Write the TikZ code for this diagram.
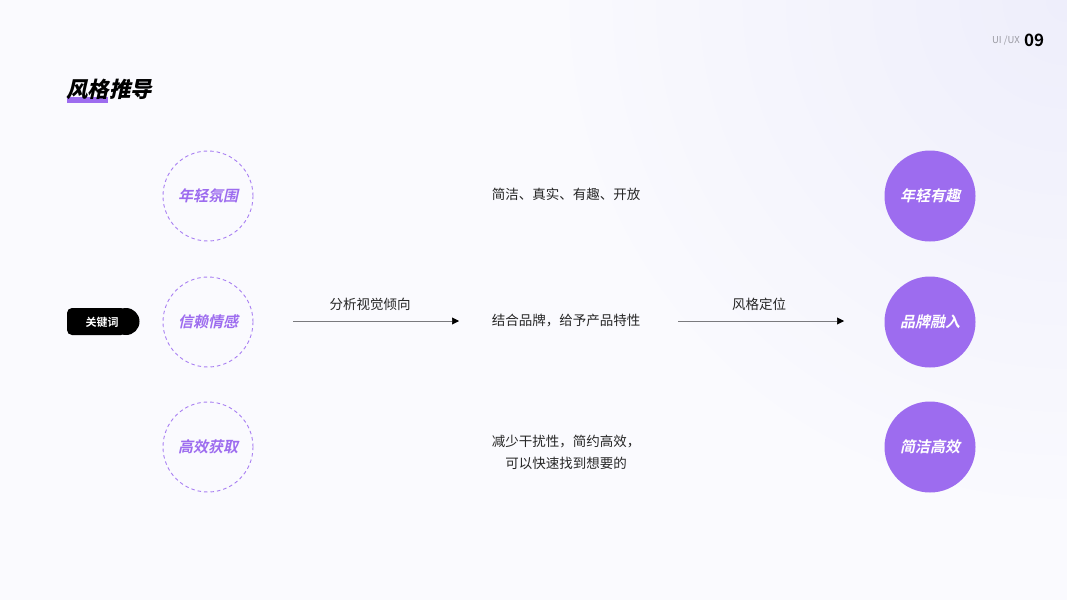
\documentclass[tikz,border=0pt]{standalone}
\usepackage{fontspec}
\setmainfont{Noto Sans CJK SC}[BoldFont={Noto Sans CJK SC Bold}]
\newfontfamily\slantbold{Noto Sans CJK SC Bold}[FakeSlant=0.22]
\newfontfamily\slantblack{Noto Sans CJK SC Black}[FakeSlant=0.22]
\usetikzlibrary{arrows.meta}
\definecolor{bgbase}{HTML}{FAFAFE}
\definecolor{bgcorner}{HTML}{EEEEFB}
\definecolor{violet}{HTML}{9D6CEF}
\definecolor{dashviolet}{HTML}{A87EF2}
\definecolor{greytext}{HTML}{9A9AA2}
\definecolor{arrowgrey}{HTML}{7A7A7E}
\tikzset{
  keyring/.style={circle,draw=dashviolet,dashed,line width=0.9pt,dash pattern=on 3.5pt off 3pt,minimum size=90pt,inner sep=0pt,text=violet,font=\fontsize{15}{15}\selectfont\slantbold},
  resultdot/.style={circle,fill=violet,minimum size=91pt,inner sep=0pt,text=white,font=\fontsize{15}{15}\selectfont\slantbold},
  plain/.style={font=\fontsize{13.5}{22}\selectfont,text=black!85,align=center},
  flow/.style={draw=arrowgrey,line width=0.6pt,-{Triangle[length=7pt,width=7pt,color=black]}}
}
\begin{document}
\begin{tikzpicture}[x=1pt,y=-1pt]
% Background
\useasboundingbox (0,0) rectangle (1067,600);
\fill[bgbase] (0,0) rectangle (1067,600);
\begin{scope}
\clip (0,0) rectangle (1067,600);
\shade[inner color=bgcorner,outer color=bgbase] (1067,0) circle (520);
\end{scope}

% Title and page number
\fill[violet] (67,97) rectangle (108,103);
\node[anchor=west,inner sep=0pt,font=\fontsize{21.5}{21.5}\selectfont\slantblack] (title) at (66,89) {风格推导};
\node[anchor=east,inner sep=0pt,text=greytext,font=\fontsize{9.5}{9.5}\selectfont] (tag) at (1020,41) {UI /UX};
\node[anchor=west,inner sep=0pt,font=\fontsize{17}{17}\selectfont\bfseries] (page) at (1024,40) {09};

% Keyword pill
\fill[black,rounded corners=5pt] (67,308) -- (126,308) -- (126,335) -- (67,335) -- cycle;
\fill[black] (126,321.5) circle (13.5);
\node[text=white,font=\fontsize{11}{11}\selectfont\bfseries] (key) at (102,322) {关键词};

% Dashed circles
\node[keyring] (young) at (208,196) {年轻氛围};
\node[keyring] (trust) at (208,322) {信赖情感};
\node[keyring] (fast) at (208,447) {高效获取};

% Middle texts
\node[plain] (textA) at (566,194) {简洁、真实、有趣、开放};
\node[plain] (textB) at (566,321) {结合品牌，给予产品特性};
\node[plain] (textC) at (566,452) {减少干扰性，简约高效，\\可以快速找到想要的};

% Filled circles
\node[resultdot] (fun) at (930,196) {年轻有趣};
\node[resultdot] (brand) at (930,322) {品牌融入};
\node[resultdot] (simple) at (930,447) {简洁高效};

% Arrows
\coordinate (a1) at (293,321);
\coordinate (a2) at (459,321);
\coordinate (b1) at (678,321);
\coordinate (b2) at (844,321);
\draw[flow] (a1) -- (a2) node[midway,above=10pt,xshift=-6pt,plain,inner sep=0pt] (lblA) {分析视觉倾向};
\draw[flow] (b1) -- (b2) node[midway,above=10pt,xshift=-2pt,plain,inner sep=0pt] (lblB) {风格定位};
\end{tikzpicture}
\end{document}
